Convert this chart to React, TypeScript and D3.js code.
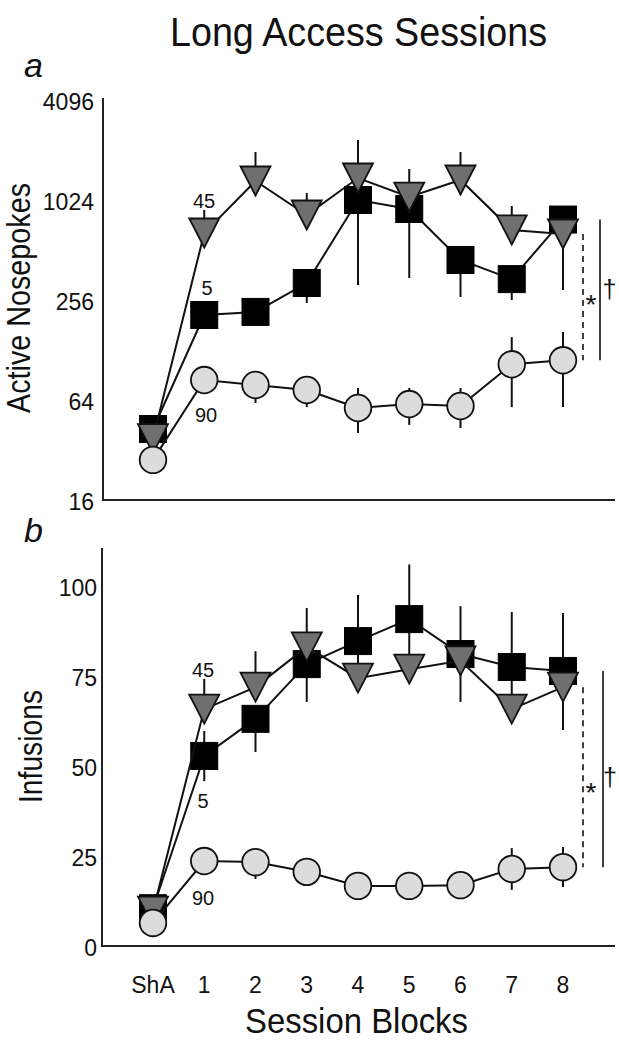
import React from "react";
import * as d3 from "d3";

const blocks = ["ShA", "1", "2", "3", "4", "5", "6", "7", "8"];

// Panel a: Active nosepokes (log2 axis)
const noseTicks = [16, 64, 256, 1024, 4096];
const sq5Nose = [42.8, 208, 217, 324, 1024, 904, 446, 342, 781];
const sq5NoseLo = [40, 190, 200, 246, 315, 347, 267, 256, 720];
const sq5NoseHi = [45, 225, 235, 380, 1150, 1000, 500, 390, 850];
const tri45Nose = [37.5, 648, 1333, 832, 1389, 1067, 1351, 676, 639];
const tri45NoseLo = [36, 600, 1200, 760, 1250, 960, 1200, 620, 294];
const tri45NoseHi = [39, 891, 1992, 1128, 2352, 1574, 1992, 942, 700];
const cir90Nose = [27.9, 84.4, 78.8, 73.5, 57.3, 60.5, 58.9, 105, 111];
const cir90NoseLo = [27, 80, 61.4, 58, 40.5, 45.3, 43.4, 58, 58];
const cir90NoseHi = [29, 89, 93, 85, 75.6, 75.6, 75.6, 153, 164];

// Panel b: Infusions (linear axis)
const infTicks = [0, 25, 50, 75, 100];
const sq5Inf = [10.5, 52.8, 63.1, 78.3, 84.7, 90.8, 81.1, 77.5, 76.4];
const sq5InfLo = [10, 45.8, 53.9, 67.8, 77, 75, 67.8, 68, 73];
const sq5InfHi = [11, 59.7, 66, 81, 97.5, 106, 94.4, 92.8, 92.5];
const tri45Inf = [9.7, 65.8, 71.9, 83.1, 74.4, 76.9, 79.2, 65.8, 71.9];
const tri45InfLo = [9.2, 63, 69, 80, 72, 74, 76, 63, 60];
const tri45InfHi = [10.2, 74.2, 81.9, 93.9, 77, 80, 82, 68, 75];
const cir90Inf = [6.4, 23.6, 23.3, 20.6, 16.7, 16.7, 16.9, 21.4, 21.9];
const cir90InfLo = [6, 22, 18.6, 19, 15, 15, 15, 15.6, 16.4];
const cir90InfHi = [7, 25, 26.9, 22, 18.5, 18.5, 18.5, 27.2, 27.5];

const FONT = "'Liberation Sans', Arial, Helvetica, sans-serif";
const TRI_FILL = "#6f6f6f";
const CIR_FILL = "#dcdcdc";
const INK = "#111";

type Series = {
  kind: "square" | "triangle" | "circle";
  vals: number[];
  lo: number[];
  hi: number[];
};

function Marker({ kind, x, y }: { kind: string; x: number; y: number }) {
  if (kind === "square") {
    const s = 27;
    return <rect x={x - s / 2} y={y - s / 2} width={s} height={s} fill="#000" stroke="#000" strokeWidth={1} />;
  }
  if (kind === "triangle") {
    const w = 15, h = 14.5;
    return (
      <path
        d={`M${x - w},${y - h}L${x + w},${y - h}L${x},${y + h}Z`}
        fill={TRI_FILL}
        stroke={INK}
        strokeWidth={1.8}
        strokeLinejoin="miter"
      />
    );
  }
  return <circle cx={x} cy={y} r={13.3} fill={CIR_FILL} stroke={INK} strokeWidth={1.8} />;
}

function Panel({
  series,
  y,
}: {
  series: Series[];
  y: (v: number) => number;
}) {
  const x = d3.scalePoint<string>().domain(blocks).range([153, 563]);
  const line = d3
    .line<number>()
    .x((_, i) => x(blocks[i]) as number)
    .y((v) => y(v));
  return (
    <g>
      {series.map((s, si) => (
        <g key={si}>
          {s.vals.map((_, i) => (
            <line
              key={"e" + i}
              x1={x(blocks[i])}
              x2={x(blocks[i])}
              y1={y(s.lo[i])}
              y2={y(s.hi[i])}
              stroke={INK}
              strokeWidth={2}
            />
          ))}
          <path d={line(s.vals) || ""} fill="none" stroke={INK} strokeWidth={2} />
          {s.vals.map((v, i) => (
            <Marker key={"m" + i} kind={s.kind} x={x(blocks[i]) as number} y={y(v)} />
          ))}
        </g>
      ))}
    </g>
  );
}

export default function App() {
  const x = d3.scalePoint<string>().domain(blocks).range([153, 563]);
  const yTop = d3.scaleLog().base(2).domain([16, 4096]).range([500, 100]);
  const yBot = d3.scaleLinear().domain([0, 100]).range([946, 586]);

  const topSeries: Series[] = [
    { kind: "square", vals: sq5Nose, lo: sq5NoseLo, hi: sq5NoseHi },
    { kind: "triangle", vals: tri45Nose, lo: tri45NoseLo, hi: tri45NoseHi },
    { kind: "circle", vals: cir90Nose, lo: cir90NoseLo, hi: cir90NoseHi },
  ];
  const botSeries: Series[] = [
    { kind: "square", vals: sq5Inf, lo: sq5InfLo, hi: sq5InfHi },
    { kind: "triangle", vals: tri45Inf, lo: tri45InfLo, hi: tri45InfHi },
    { kind: "circle", vals: cir90Inf, lo: cir90InfLo, hi: cir90InfHi },
  ];
  const last = blocks.length - 1;

  return (
    <svg
      width={619}
      height={1050}
      style={{ position: "absolute", left: 0, top: 0, background: "#fff" }}
      fontFamily={FONT}
    >
      <rect width={619} height={1050} fill="#fff" />
      {/* Title */}
      <text x={358.5} y={46} fontSize={40} textAnchor="middle" textLength={377} lengthAdjust="spacingAndGlyphs" fill={INK}>
        Long Access Sessions
      </text>
      {/* Panel letters */}
      <text x={24} y={77} fontSize={34} fontStyle="italic" fill={INK}>a</text>
      <text x={24} y={542} fontSize={34} fontStyle="italic" fill={INK}>b</text>

      {/* ---------- Panel a ---------- */}
      <line x1={103} x2={103} y1={yTop(4096) - 2} y2={yTop(16)} stroke="#222" strokeWidth={2} />
      <line x1={102} x2={615} y1={yTop(16)} y2={yTop(16)} stroke="#222" strokeWidth={2} />
      {noseTicks.map((t) => (
        <text key={t} x={94} y={yTop(t)} dy="0.42em" fontSize={23} textAnchor="end" fill={INK}>
          {t}
        </text>
      ))}
      <text
        transform={`translate(30,298) rotate(-90)`}
        fontSize={34}
        textAnchor="middle"
        textLength={230}
        lengthAdjust="spacingAndGlyphs"
        fill={INK}
      >
        Active Nosepokes
      </text>
      <Panel series={topSeries} y={(v) => yTop(v)} />
      <text x={204} y={208} fontSize={20} textAnchor="middle" fill={INK}>45</text>
      <text x={207} y={295} fontSize={20} textAnchor="middle" fill={INK}>5</text>
      <text x={206} y={422} fontSize={20} textAnchor="middle" fill={INK}>90</text>
      <line x1={583} x2={583} y1={yTop(tri45Nose[last])} y2={yTop(cir90Nose[last])} stroke={INK} strokeWidth={1.6} strokeDasharray="6,5" />
      <line x1={600} x2={600} y1={yTop(sq5Nose[last])} y2={yTop(cir90Nose[last])} stroke={INK} strokeWidth={1.6} />
      <text x={591} y={314} fontSize={28} textAnchor="middle" fill={INK}>*</text>
      <text x={609.5} y={298} fontSize={25} textAnchor="middle" fill={INK}>†</text>

      {/* ---------- Panel b ---------- */}
      <line x1={102} x2={102} y1={548} y2={yBot(0)} stroke="#222" strokeWidth={2} />
      <line x1={101} x2={615} y1={yBot(0)} y2={yBot(0)} stroke="#222" strokeWidth={2} />
      {infTicks.map((t) => (
        <text key={t} x={97} y={yBot(t)} dy="0.42em" fontSize={23} textAnchor="end" fill={INK}>
          {t}
        </text>
      ))}
      <text
        transform={`translate(42,746.5) rotate(-90)`}
        fontSize={34}
        textAnchor="middle"
        textLength={113}
        lengthAdjust="spacingAndGlyphs"
        fill={INK}
      >
        Infusions
      </text>
      <Panel series={botSeries} y={(v) => yBot(v)} />
      <text x={203} y={677} fontSize={20} textAnchor="middle" fill={INK}>45</text>
      <text x={203} y={808} fontSize={20} textAnchor="middle" fill={INK}>5</text>
      <text x={203} y={905} fontSize={20} textAnchor="middle" fill={INK}>90</text>
      <line x1={583} x2={583} y1={yBot(tri45Inf[last])} y2={yBot(cir90Inf[last])} stroke={INK} strokeWidth={1.6} strokeDasharray="6,5" />
      <line x1={603} x2={603} y1={yBot(sq5Inf[last])} y2={yBot(cir90Inf[last])} stroke={INK} strokeWidth={1.6} />
      <text x={591} y={802} fontSize={28} textAnchor="middle" fill={INK}>*</text>
      <text x={610} y={786} fontSize={25} textAnchor="middle" fill={INK}>†</text>

      {/* X axis ticks and title */}
      {blocks.map((b) => (
        <text key={b} x={x(b)} y={993} fontSize={23} textAnchor="middle" fill={INK}>
          {b}
        </text>
      ))}
      <text x={356.5} y={1033} fontSize={35} textAnchor="middle" textLength={223} lengthAdjust="spacingAndGlyphs" fill={INK}>
        Session Blocks
      </text>
    </svg>
  );
}
